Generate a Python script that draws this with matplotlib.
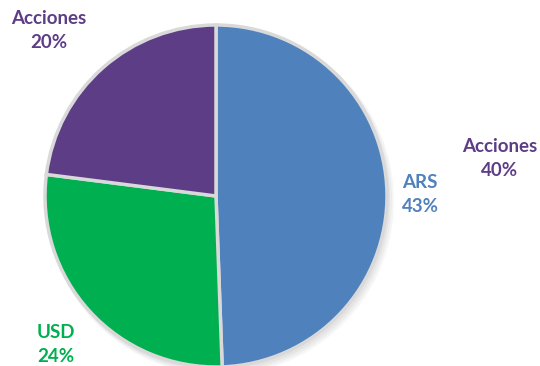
import matplotlib
matplotlib.use('Agg')
from matplotlib import pyplot as plt
from matplotlib.patches import Circle

# slices (clockwise from 12 o'clock)
names = ['ARS', 'USD', 'Acciones']
values = [43, 24, 20]
colors = ['#4F81BD', '#00B050', '#5E3D87']

# extra label shown on the right of the chart
extra_name = 'Acciones'
extra_value = 40

fig = plt.figure(figsize=(5.4, 3.66), dpi=100)
ax = fig.add_axes([0, 0, 1, 1])

cx, cy, r = 216, 170, 171

# soft shadow under the pie
for i in range(3):
    ax.add_patch(Circle((cx + 2 + i, cy - 3 - i), r + 1 + i, color='#000000', alpha=0.035, lw=0, zorder=0))

ax.pie(values, colors=colors, startangle=90, counterclock=False,
       center=(cx, cy), radius=r, frame=True,
       wedgeprops=dict(edgecolor='#D9D9D9', linewidth=2.5))
ax.set_xlim(0, 540)
ax.set_ylim(0, 366)
ax.set_aspect('equal')
ax.axis('off')

font = dict(family='Lato', fontweight='bold', fontsize=13.5, ha='center', va='center', linespacing=1.5)
pos = [(420, 172), (56, 22), (49, 335)]
for (x, y), n, v, c in zip(pos, names, values, colors):
    ax.text(x, y, f'{n}\n{v}%', color=c, **font)
ax.text(500, 208, f'{extra_name}\n{extra_value}%', color=colors[2], **font)

plt.savefig('out.png', dpi=100)
